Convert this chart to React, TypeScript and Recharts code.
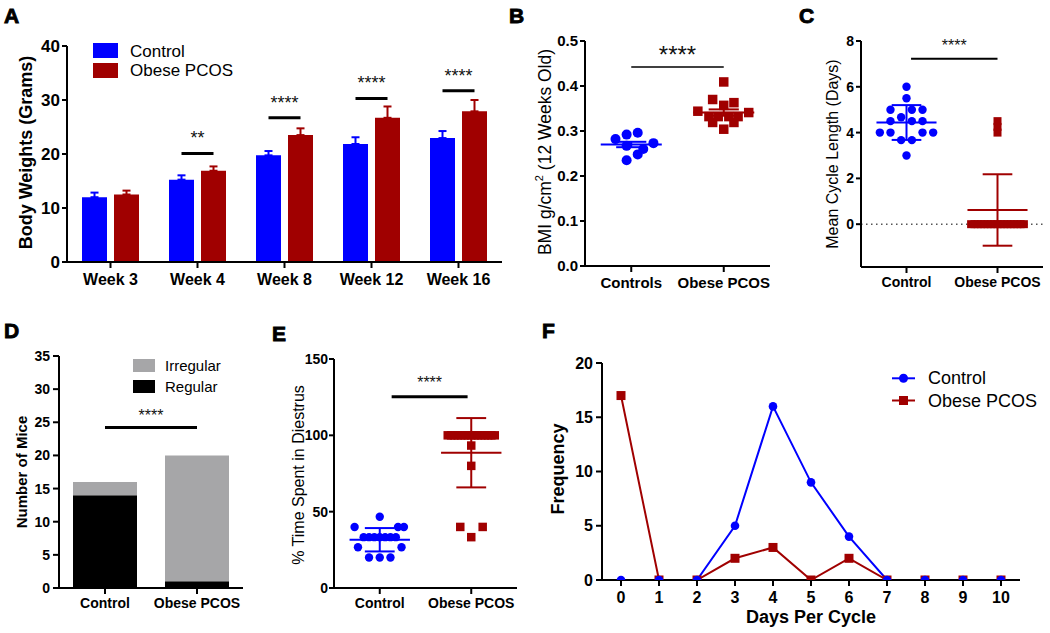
import React from 'react';
import {
  BarChart, Bar, XAxis, YAxis, ErrorBar, ReferenceLine, ReferenceDot,
  ScatterChart, Scatter, LineChart, Line,
} from 'recharts';

const FONT = '"Liberation Sans", Arial, Helvetica, sans-serif';
const BLUE = '#0000ff';
const RED = '#a00000';
const GRAY = '#a6a6a8';

// ---------- Panel A: body weights ----------
const weekLabels = ['Week 3', 'Week 4', 'Week 8', 'Week 12', 'Week 16'];
const weightControl = [12.0, 15.25, 19.75, 21.85, 22.95];
const weightControlErr = [0.85, 0.8, 0.8, 1.25, 1.3];
const weightObese = [12.5, 16.9, 23.5, 26.7, 27.9];
const weightObeseErr = [0.72, 0.8, 1.25, 2.1, 2.1];
const weightSigWeeks = ['Week 4', 'Week 8', 'Week 12', 'Week 16'];
const weightSigY = [20.1, 26.7, 30.3, 31.7];
const weightSigStars = ['**', '****', '****', '****'];

// ---------- Panel B: BMI ----------
const bmiGroups = ['Controls', 'Obese PCOS'];
const bmiControl = [0.282, 0.292, 0.296, 0.273, 0.267, 0.26, 0.248, 0.235];
const bmiControlX = [-0.17, -0.05, 0.07, 0.24, -0.05, 0.13, 0.07, -0.05];
const bmiObese = [0.409, 0.37, 0.363, 0.357, 0.344, 0.341, 0.332, 0.332, 0.332, 0.332, 0.319, 0.319, 0.304];
const bmiObeseX = [0, -0.12, 0.11, 0, -0.28, 0.27, -0.16, -0.06, 0.055, 0.155, -0.12, 0.11, 0];
const bmiMean = [0.27, 0.341];
const bmiSem = [0.006, 0.007];
const bmiSigY = 0.442;

// ---------- Panel C: mean cycle length ----------
const cycleGroups = ['Control', 'Obese PCOS'];
const cycleControl = [6.0, 5.5, 5.0, 5.0, 5.0, 4.67, 4.5, 4.5, 4.5, 4.0, 4.0, 4.0, 4.0, 3.67, 3.67, 3.0];
const cycleControlX = [0, 0, -0.176, 0.059, 0.176, -0.059, -0.176, 0.059, 0.176, -0.293, -0.176, 0.176, 0.293, -0.059, 0.059, 0];
const cycleObese = [0, 0, 0, 0, 0, 0, 0, 0, 0, 0, 0, 0, 0, 0, 0, 0, 0, 4.0, 4.25, 4.5];
const cycleObeseX = [-0.29, -0.254, -0.218, -0.181, -0.145, -0.109, -0.073, -0.036, 0, 0.036, 0.073, 0.109, 0.145, 0.181, 0.218, 0.254, 0.29, 0, 0, 0];
const cycleMean = [4.44, 0.62];
const cycleSd = [0.76, 1.56];
const cycleSigY = 7.22;

// ---------- Panel D: regular / irregular ----------
const miceGroups = ['Control', 'Obese PCOS'];
const miceRegular = [14, 1];
const miceIrregular = [2, 19];
const miceSigY = 24.2;

// ---------- Panel E: % time in diestrus ----------
const diestrusGroups = ['Control', 'Obese PCOS'];
const diestrusControl = [46.7, 40, 40, 40, 33.3, 33.3, 33.3, 33.3, 33.3, 33.3, 33.3, 26.7, 26.7, 20, 20, 20];
const diestrusControlX = [0, -0.275, 0.2, 0.264, -0.176, -0.117, -0.059, 0, 0.059, 0.117, 0.176, -0.238, 0.238, -0.117, 0, 0.117];
const diestrusObese = [100, 100, 100, 100, 100, 100, 100, 100, 100, 100, 100, 100, 100, 100, 100, 93.3, 80, 40, 40, 33.3];
const diestrusObeseX = [-0.257, -0.22, -0.184, -0.147, -0.11, -0.073, -0.037, 0, 0.037, 0.073, 0.11, 0.147, 0.184, 0.22, 0.257, 0, 0, -0.12, 0.125, 0];
const diestrusMean = [31.6, 88.6];
const diestrusSd = [7.65, 22.7];
const diestrusSigY = 125.2;

// ---------- Panel F: frequency ----------
const daysPerCycle = [0, 1, 2, 3, 4, 5, 6, 7, 8, 9, 10];
const freqControl = [0, 0, 0, 5, 16, 9, 4, 0, 0, 0, 0];
const freqObese = [17, 0, 0, 2, 3, 0, 2, 0, 0, 0, 0];

// ---------- helpers ----------
const axisLine = { stroke: '#000', strokeWidth: 2 };
const tickLine = { stroke: '#000', strokeWidth: 2 };
const tickStyle = (size: number) => ({ fill: '#000', fontSize: size, fontWeight: 700, fontFamily: FONT });

const circleShape = (r: number, fill: string) => (p: any) => (
  <circle cx={p.cx} cy={p.cy} r={r} fill={fill} />
);
const squareShape = (s: number, fill: string) => (p: any) => (
  <rect x={p.cx - s / 2} y={p.cy - s / 2} width={s} height={s} fill={fill} />
);

function summaryLines(prefix: string, center: number, mean: number, err: number, color: string) {
  const half = 0.33;
  const cap = 0.163;
  return [
    <ReferenceLine key={prefix + 'm'} segment={[{ x: center - half, y: mean }, { x: center + half, y: mean }]} stroke={color} strokeWidth={2} ifOverflow="visible" />,
    <ReferenceLine key={prefix + 'v'} segment={[{ x: center, y: mean - err }, { x: center, y: mean + err }]} stroke={color} strokeWidth={2} ifOverflow="visible" />,
    <ReferenceLine key={prefix + 'u'} segment={[{ x: center - cap, y: mean + err }, { x: center + cap, y: mean + err }]} stroke={color} strokeWidth={2} ifOverflow="visible" />,
    <ReferenceLine key={prefix + 'l'} segment={[{ x: center - cap, y: mean - err }, { x: center + cap, y: mean - err }]} stroke={color} strokeWidth={2} ifOverflow="visible" />,
  ];
}

const toPoints = (vals: number[], offs: number[], center: number) =>
  vals.map((v, i) => ({ x: center + offs[i], y: v }));

const starLabel = (value: string, offset: number, size: number) => ({
  value, position: 'top' as const, offset, fontSize: size, fill: '#111', fontFamily: FONT,
});

// half distance between the two bar centres of a week group: (barSize + barGap) / 2
const BAR_PAIR_HALF = 16;

const sigShape = (stars: string) => (p: any) => (
  <g>
    <line x1={p.cx - BAR_PAIR_HALF} y1={p.cy} x2={p.cx + BAR_PAIR_HALF} y2={p.cy} stroke="#000" strokeWidth={3} />
    <text x={p.cx} y={p.cy - 9} textAnchor="middle" fontSize={18} fill="#111" fontFamily={FONT}>{stars}</text>
  </g>
);

const weightData = weekLabels.map((w, i) => ({
  week: w,
  control: weightControl[i],
  controlErr: [0, weightControlErr[i]],
  obese: weightObese[i],
  obeseErr: [0, weightObeseErr[i]],
}));

const miceData = miceGroups.map((g, i) => ({ group: g, regular: miceRegular[i], irregular: miceIrregular[i] }));

const freqData = daysPerCycle.map((d, i) => ({ day: d, control: freqControl[i], obese: freqObese[i] }));

const box = (left: number, top: number): React.CSSProperties => ({ position: 'absolute', left, top });

function RotTitle({ x, y, size, bold, children }: any) {
  return (
    <text x={x} y={y} transform={`rotate(-90 ${x} ${y})`} textAnchor="middle" dominantBaseline="central"
      fontSize={size} fontWeight={bold ? 700 : 400} fill="#000">
      {children}
    </text>
  );
}

function PanelLetter({ x, y, t }: any) {
  return (
    <text x={x} y={y} fontSize={21} fontWeight={900} fill="#000" stroke="#000" strokeWidth={0.9}>{t}</text>
  );
}

export default function App() {
  return (
    <div style={{ position: 'absolute', left: 0, top: 0, width: 1050, height: 633, background: '#fff', fontFamily: FONT }}>
      {/* A */}
      <div style={box(0, 0)}>
        <BarChart width={520} height={300} data={weightData} margin={{ top: 46, right: 18, bottom: 8, left: 0 }} barGap={7} barSize={25}>
          <XAxis dataKey="week" height={30} axisLine={axisLine} tickLine={tickLine} tickSize={6} tickMargin={6} tick={tickStyle(16)} interval={0} />
          <YAxis width={67} domain={[0, 40]} ticks={[0, 10, 20, 30, 40]} allowDataOverflow axisLine={axisLine} tickLine={tickLine} tickSize={5} tickMargin={2} tick={tickStyle(17)} />
          <Bar dataKey="control" fill={BLUE} isAnimationActive={false}>
            <ErrorBar dataKey="controlErr" width={4} stroke={BLUE} strokeWidth={2} direction="y" />
          </Bar>
          <Bar dataKey="obese" fill={RED} isAnimationActive={false}>
            <ErrorBar dataKey="obeseErr" width={4} stroke={RED} strokeWidth={2} direction="y" />
          </Bar>
          {weightSigWeeks.map((w, i) => (
            <ReferenceDot key={'s' + i} x={w} y={weightSigY[i]} r={1} ifOverflow="visible" shape={sigShape(weightSigStars[i])} />
          ))}
        </BarChart>
      </div>

      {/* B */}
      <div style={box(480, 0)}>
        <ScatterChart width={300} height={300} margin={{ top: 41, right: 10, bottom: 4, left: 0 }}>
          <XAxis type="number" dataKey="x" domain={[0.5, 2.5]} ticks={[1, 2]} tickFormatter={(v: number) => bmiGroups[v - 1]} allowDataOverflow height={30}
            axisLine={axisLine} tickLine={tickLine} tickSize={6} tickMargin={5} tick={tickStyle(15)} interval={0} />
          <YAxis type="number" dataKey="y" width={105} domain={[0, 0.5]} ticks={[0, 0.1, 0.2, 0.3, 0.4, 0.5]} tickFormatter={(v: number) => v.toFixed(1)} allowDataOverflow
            axisLine={axisLine} tickLine={tickLine} tickSize={5} tickMargin={2} tick={tickStyle(15)} />
          <Scatter data={toPoints(bmiControl, bmiControlX, 1)} shape={circleShape(5, BLUE)} isAnimationActive={false} />
          <Scatter data={toPoints(bmiObese, bmiObeseX, 2)} shape={squareShape(9.5, RED)} isAnimationActive={false} />
          {summaryLines('bc', 1, bmiMean[0], bmiSem[0], BLUE)}
          {summaryLines('bo', 2, bmiMean[1], bmiSem[1], RED)}
          <ReferenceLine segment={[{ x: 1, y: bmiSigY }, { x: 2, y: bmiSigY }]} stroke="#000" strokeWidth={1.5} label={starLabel('****', 4, 24)} />
        </ScatterChart>
      </div>

      {/* C */}
      <div style={box(780, 0)}>
        <ScatterChart width={270} height={300} margin={{ top: 41, right: 7, bottom: 3, left: 0 }}>
          <XAxis type="number" dataKey="x" domain={[0.5, 2.5]} ticks={[1, 2]} tickFormatter={(v: number) => cycleGroups[v - 1]} allowDataOverflow height={30}
            axisLine={axisLine} tickLine={tickLine} tickSize={6} tickMargin={4} tick={tickStyle(14)} interval={0} />
          <YAxis type="number" dataKey="y" width={81} domain={[-1.87, 8]} ticks={[0, 2, 4, 6, 8]} allowDataOverflow
            axisLine={axisLine} tickLine={tickLine} tickSize={5} tickMargin={2} tick={tickStyle(14)} />
          <ReferenceLine y={0} stroke="#555" strokeWidth={1.5} strokeDasharray="1.5 3.5" />
          <Scatter data={toPoints(cycleControl, cycleControlX, 1)} shape={circleShape(4.2, BLUE)} isAnimationActive={false} />
          <Scatter data={toPoints(cycleObese, cycleObeseX, 2)} shape={squareShape(8, RED)} isAnimationActive={false} />
          {summaryLines('cc', 1, cycleMean[0], cycleSd[0], BLUE)}
          {summaryLines('co', 2, cycleMean[1], cycleSd[1], RED)}
          <ReferenceLine segment={[{ x: 1.05, y: cycleSigY }, { x: 2, y: cycleSigY }]} stroke="#000" strokeWidth={2} label={starLabel('****', 8, 16)} />
        </ScatterChart>
      </div>

      {/* D */}
      <div style={box(0, 310)}>
        <BarChart width={260} height={323} data={miceData} margin={{ top: 46, right: 17, bottom: 15, left: 0 }} barSize={64}>
          <XAxis dataKey="group" height={30} axisLine={axisLine} tickLine={tickLine} tickSize={6} tickMargin={4} tick={tickStyle(14)} interval={0} />
          <YAxis width={59} domain={[0, 35]} ticks={[0, 5, 10, 15, 20, 25, 30, 35]} allowDataOverflow axisLine={axisLine} tickLine={tickLine} tickSize={6} tickMargin={3} tick={tickStyle(14)} />
          <Bar dataKey="regular" stackId="a" fill="#000" isAnimationActive={false} />
          <Bar dataKey="irregular" stackId="a" fill={GRAY} isAnimationActive={false} />
          <ReferenceLine segment={[{ x: 'Control', y: miceSigY }, { x: 'Obese PCOS', y: miceSigY }]} ifOverflow="visible" stroke="#000" strokeWidth={3} label={starLabel('****', 6.5, 16)} />
        </BarChart>
      </div>

      {/* E */}
      <div style={box(260, 310)}>
        <ScatterChart width={270} height={323} margin={{ top: 49, right: 13, bottom: 15, left: 0 }}>
          <XAxis type="number" dataKey="x" domain={[0.5, 2.5]} ticks={[1, 2]} tickFormatter={(v: number) => diestrusGroups[v - 1]} allowDataOverflow height={30}
            axisLine={axisLine} tickLine={tickLine} tickSize={6} tickMargin={4} tick={tickStyle(14)} interval={0} />
          <YAxis type="number" dataKey="y" width={74} domain={[0, 150]} ticks={[0, 50, 100, 150]} allowDataOverflow
            axisLine={axisLine} tickLine={tickLine} tickSize={5} tickMargin={1} tick={tickStyle(14)} />
          <Scatter data={toPoints(diestrusControl, diestrusControlX, 1)} shape={circleShape(4.2, BLUE)} isAnimationActive={false} />
          <Scatter data={toPoints(diestrusObese, diestrusObeseX, 2)} shape={squareShape(8.5, RED)} isAnimationActive={false} />
          {summaryLines('ec', 1, diestrusMean[0], diestrusSd[0], BLUE)}
          {summaryLines('eo', 2, diestrusMean[1], diestrusSd[1], RED)}
          <ReferenceLine segment={[{ x: 1.13, y: diestrusSigY }, { x: 1.96, y: diestrusSigY }]} stroke="#000" strokeWidth={3} label={starLabel('****', 8.5, 16)} />
        </ScatterChart>
      </div>

      {/* F */}
      <div style={box(540, 310)}>
        <LineChart width={500} height={323} data={freqData} margin={{ top: 53, right: 20, bottom: 3, left: 0 }}>
          <XAxis type="number" dataKey="day" domain={[-0.5, 10.5]} ticks={daysPerCycle} allowDataOverflow height={50}
            axisLine={axisLine} tickLine={tickLine} tickSize={6} tickMargin={6} tick={tickStyle(16)} interval={0} />
          <YAxis width={62} domain={[0, 20]} ticks={[0, 5, 10, 15, 20]} allowDataOverflow
            axisLine={axisLine} tickLine={tickLine} tickSize={6} tickMargin={3} tick={tickStyle(16)} />
          <Line dataKey="obese" stroke={RED} strokeWidth={2} isAnimationActive={false} activeDot={false}
            dot={(p: any) => <rect key={'o' + p.index} x={p.cx - 4.5} y={p.cy - 4.5} width={9} height={9} fill={RED} />} />
          <Line dataKey="control" stroke={BLUE} strokeWidth={2} isAnimationActive={false} activeDot={false}
            dot={(p: any) => <circle key={'c' + p.index} cx={p.cx} cy={p.cy} r={4.3} fill={BLUE} />} />
        </LineChart>
      </div>

      {/* Overlay: panel letters, axis titles, legends */}
      <svg width={1050} height={633} style={{ position: 'absolute', left: 0, top: 0, pointerEvents: 'none' }} fontFamily={FONT}>
        <PanelLetter x={4} y={23} t="A" />
        <PanelLetter x={509} y={23} t="B" />
        <PanelLetter x={799} y={23} t="C" />
        <PanelLetter x={4} y={338} t="D" />
        <PanelLetter x={272} y={341} t="E" />
        <PanelLetter x={542} y={338} t="F" />

        <RotTitle x={26} y={152.5} size={18} bold>Body Weights (Grams)</RotTitle>
        <RotTitle x={545} y={152} size={17.5}>
          <tspan>BMI g/cm</tspan><tspan dy={-6} fontSize={11}>2</tspan><tspan dy={6}> (12 Weeks Old)</tspan>
        </RotTitle>
        <RotTitle x={832} y={154} size={16}>Mean Cycle Length (Days)</RotTitle>
        <RotTitle x={21} y={472} size={15} bold>Number of Mice</RotTitle>
        <RotTitle x={298} y={475} size={16}>% Time Spent in Diestrus</RotTitle>
        <RotTitle x={557.5} y={469} size={18} bold>Frequency</RotTitle>
        <text x={811} y={623} textAnchor="middle" fontSize={18} fontWeight={700} fill="#000">Days Per Cycle</text>

        {/* legend A */}
        <rect x={93} y={43} width={25} height={15} fill={BLUE} />
        <rect x={93} y={63} width={25} height={15} fill={RED} />
        <text x={130} y={57.3} fontSize={17} fill="#000">Control</text>
        <text x={130} y={76} fontSize={17} fill="#000">Obese PCOS</text>

        {/* legend D */}
        <rect x={133} y={359} width={22} height={13} fill={GRAY} />
        <rect x={133} y={380} width={22} height={13} fill="#000" />
        <text x={165} y={371} fontSize={15} fill="#000">Irregular</text>
        <text x={165} y={391.5} fontSize={15} fill="#000">Regular</text>

        {/* legend F */}
        <line x1={892} y1={378.3} x2={915} y2={378.3} stroke={BLUE} strokeWidth={2} />
        <circle cx={903.5} cy={378.3} r={4.5} fill={BLUE} />
        <text x={928} y={384} fontSize={18} fill="#000">Control</text>
        <line x1={892} y1={400.5} x2={915} y2={400.5} stroke={RED} strokeWidth={2} />
        <rect x={899} y={396} width={9} height={9} fill={RED} />
        <text x={928} y={406.5} fontSize={18} fill="#000">Obese PCOS</text>
      </svg>
    </div>
  );
}
